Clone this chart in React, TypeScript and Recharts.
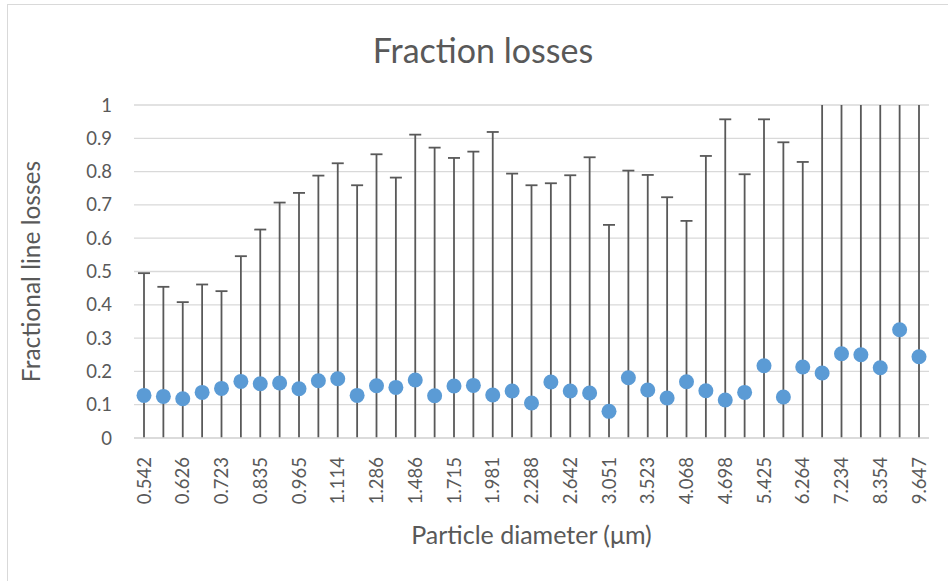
import { LineChart, Line, XAxis, YAxis, CartesianGrid, ErrorBar } from 'recharts'

// particle diameters (µm); only every other one is labelled on the axis
const diameters = [
  '0.542', '0.583', '0.626', '0.673', '0.723', '0.777', '0.835', '0.898', '0.965', '1.037',
  '1.114', '1.197', '1.286', '1.382', '1.486', '1.596', '1.715', '1.843', '1.981', '2.129',
  '2.288', '2.458', '2.642', '2.839', '3.051', '3.278', '3.523', '3.786', '4.068', '4.371',
  '4.698', '5.048', '5.425', '5.829', '6.264', '6.732', '7.234', '7.774', '8.354', '8.977',
  '9.647',
]

const losses = [
  0.128, 0.125, 0.118, 0.137, 0.149, 0.170, 0.163, 0.165, 0.148, 0.172,
  0.178, 0.128, 0.157, 0.152, 0.174, 0.127, 0.156, 0.158, 0.129, 0.141,
  0.105, 0.168, 0.141, 0.135, 0.080, 0.181, 0.144, 0.120, 0.169, 0.142,
  0.114, 0.137, 0.217, 0.123, 0.213, 0.195, 0.253, 0.250, 0.211, 0.325,
  0.244,
]

// top of each error bar (last ones run off the top of the plot)
const upperBounds = [
  0.495, 0.454, 0.408, 0.461, 0.441, 0.546, 0.626, 0.707, 0.736, 0.788,
  0.825, 0.759, 0.852, 0.782, 0.911, 0.872, 0.841, 0.860, 0.919, 0.794,
  0.759, 0.765, 0.789, 0.843, 0.640, 0.803, 0.790, 0.723, 0.652, 0.847,
  0.957, 0.792, 0.957, 0.888, 0.829, 1.2, 1.3, 1.25, 1.2, 1.4,
  1.3,
]

const yTicks = [0, 0.1, 0.2, 0.3, 0.4, 0.5, 0.6, 0.7, 0.8, 0.9, 1]

const data = diameters.map((d, i) => ({
  d,
  loss: losses[i],
  err: upperBounds[i] - losses[i],
}))

const FONT = 'Lato, "Open Sans", sans-serif'
const TEXT = '#595959'

// plot box, used to clip the error bars like Excel does
const PLOT = { x: 134, y: 105, w: 795, h: 333 }

const XTick = ({ x, y, payload }: any) => (
  <g transform={`translate(${x},${y})`}>
    <text
      transform="rotate(-90)"
      x={-11}
      y={0}
      dy="0.36em"
      textAnchor="end"
      fill={TEXT}
      fontSize={18.5}
      fontFamily={FONT}
    >
      {payload.value}
    </text>
  </g>
)

export default function App() {
  return (
    <div style={{ position: 'absolute', left: 0, top: 0, width: 948, height: 581, background: '#fff', fontFamily: FONT }}>
      <style>{`.recharts-errorBars { clip-path: url(#plotClip); }`}</style>
      <svg width={0} height={0} style={{ position: 'absolute' }}>
        <defs>
          <clipPath id="plotClip" clipPathUnits="userSpaceOnUse">
            <rect x={PLOT.x} y={PLOT.y} width={PLOT.w} height={PLOT.h} />
          </clipPath>
        </defs>
      </svg>
      <div
        style={{
          position: 'absolute',
          left: 7,
          top: 4,
          right: 0,
          bottom: 0,
          borderLeft: '1.5px solid #d9d9d9',
          borderTop: '1.5px solid #d9d9d9',
        }}
      />
      <div
        style={{
          position: 'absolute',
          left: 483,
          top: 30,
          transform: 'translateX(-50%)',
          fontSize: 34,
          color: TEXT,
          whiteSpace: 'nowrap',
          lineHeight: '40px',
        }}
      >
        Fraction losses
      </div>
      <LineChart
        width={948}
        height={581}
        data={data}
        margin={{ top: PLOT.y, right: 948 - PLOT.x - PLOT.w, bottom: 0, left: 0 }}
        style={{ position: 'absolute', left: 0, top: 0 }}
      >
        <CartesianGrid horizontal vertical={false} stroke="#d9d9d9" strokeWidth={1.3} />
        <XAxis
          dataKey="d"
          interval={1}
          height={581 - PLOT.y - PLOT.h}
          padding={{ left: 10, right: 10 }}
          tick={<XTick />}
          tickLine={false}
          axisLine={{ stroke: '#d9d9d9', strokeWidth: 1.3 }}
          label={{
            value: 'Particle diameter (μm)',
            position: 'insideBottom',
            offset: 37,
            fill: TEXT,
            fontSize: 25,
            fontFamily: FONT,
          }}
        />
        <YAxis
          type="number"
          domain={[0, 1]}
          ticks={yTicks}
          allowDataOverflow
          width={PLOT.x}
          axisLine={false}
          tickLine={false}
          tickMargin={16}
          tick={{ fill: TEXT, fontSize: 18.5, fontFamily: FONT }}
          label={{
            value: 'Fractional line losses',
            angle: -90,
            position: 'insideLeft',
            offset: 31,
            fill: TEXT,
            fontSize: 24.5,
            fontFamily: FONT,
            style: { textAnchor: 'middle' },
          }}
        />
        <Line
          dataKey="loss"
          stroke="none"
          strokeWidth={0}
          dot={{ r: 7.5, fill: '#5b9bd5', stroke: '#5b9bd5', strokeWidth: 0 }}
          activeDot={false}
          isAnimationActive={false}
        >
          <ErrorBar dataKey="err" direction="y" width={6} stroke="#595959" strokeWidth={1.8} />
        </Line>
      </LineChart>
    </div>
  )
}
